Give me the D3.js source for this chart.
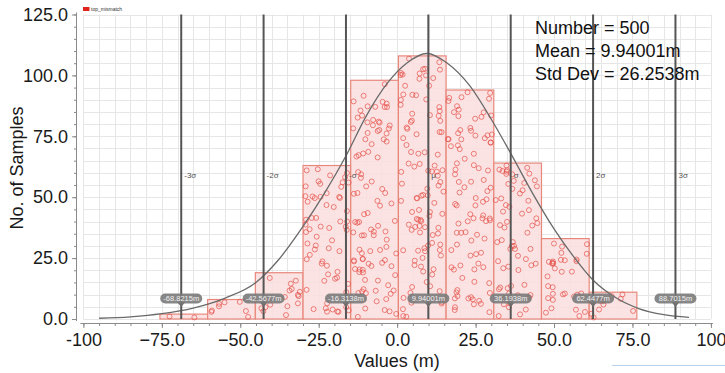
<!DOCTYPE html>
<html>
<head>
<meta charset="utf-8">
<script src="https://cdn.jsdelivr.net/npm/d3@7"></script>
<style>
  html, body { margin: 0; padding: 0; background: #fff; }
  svg { display: block; font-family: "Liberation Sans", Arial, sans-serif; }
</style>
</head>
<body>
<div id="chart"></div>
<script>
// histogram bins
const binEdges = [-75.6, -60.4, -45.2, -30.0, -14.8, 0.4, 15.6, 30.8, 46.0, 61.2, 76.4];
const binCounts = [2, 8, 19, 63, 98, 108, 94, 64, 33, 11];

// summary stats
const mean = 9.94001;
const stdDev = 26.2538;
const statLines = ["Number = 500", "Mean = 9.94001m", "Std Dev = 26.2538m"];

// sigma markers
const sigmaSteps = [-3, -2, -1, 0, 1, 2, 3];
const sigmaNames = ["-3σ", "-2σ", "-σ", "μ", "σ", "2σ", "3σ"];
const sigmaValues = ["-68.8215m", "-42.5677m", "-16.3138m", "9.94001m", "36.1938m", "62.4477m", "88.7015m"];

// fit curve, points
const curveX = [-95, -85, -75, -65, -55, -45, -38, -30, -23, -16.3, -10, -3, 3, 9.5, 16, 23, 30, 36.2, 43, 50, 56, 62.4, 70, 77, 85, 93];
const curveY = [0.3, 0.9, 2.2, 4.5, 8.5, 15, 24, 38, 52, 67, 83, 97, 105, 109, 105, 96, 82, 68, 52, 37, 26, 16, 8.5, 4.3, 1.8, 0.7];

// axes
const xTicks = [-100, -75, -50, -25, 0, 25, 50, 75, 100];
const yTicks = [0, 25, 50, 75, 100, 125];
const legendName = "top_mismatch";

const width = 725, height = 373;

const svg = d3.select("#chart").append("svg")
  .attr("width", width)
  .attr("height", height);

const x = d3.scaleLinear().domain([-100, 100]).range([83.4, 710.9]);
const y = d3.scaleLinear().domain([0, 125]).range([319, 14.5]);

// background grid every 5 units
const grid = svg.append("g").attr("stroke", "#e6e6e6").attr("stroke-width", 1);
grid.selectAll("line.v").data(d3.range(-100, 100.1, 5)).join("line")
  .attr("class", "v")
  .attr("x1", d => Math.round(x(d)) + 0.5).attr("x2", d => Math.round(x(d)) + 0.5)
  .attr("y1", y(125)).attr("y2", y(0));
grid.selectAll("line.h").data(d3.range(0, 125.1, 5)).join("line")
  .attr("class", "h")
  .attr("y1", d => Math.round(y(d)) + 0.5).attr("y2", d => Math.round(y(d)) + 0.5)
  .attr("x1", x(-100)).attr("x2", x(100));

// bars
const bins = binCounts.map((c, i) => ({ x0: binEdges[i], x1: binEdges[i + 1], count: c }));

svg.append("g").selectAll("rect").data(bins).join("rect")
  .attr("x", d => x(d.x0))
  .attr("y", d => y(d.count))
  .attr("width", d => x(d.x1) - x(d.x0))
  .attr("height", d => y(0) - y(d.count))
  .attr("fill", "#fbdede")
  .attr("fill-opacity", 0.85)
  .attr("stroke", "#e8887c")
  .attr("stroke-width", 1.2);

// one ring per sample, jittered inside its bin (fixed seed so it is stable)
const rand = d3.randomLcg(0.4242);
const dots = [];
bins.forEach(b => {
  for (let j = 0; j < b.count; j++) {
    dots.push({
      v: b.x0 + 0.6 + rand() * (b.x1 - b.x0 - 1.2),
      h: 0.6 + rand() * Math.max(0.1, b.count - 1.4)
    });
  }
});

svg.append("g").selectAll("circle").data(dots).join("circle")
  .attr("cx", d => x(d.v))
  .attr("cy", d => y(d.h))
  .attr("r", 2.5)
  .attr("fill", "none")
  .attr("stroke", "#e4544c")
  .attr("stroke-opacity", 0.8)
  .attr("stroke-width", 0.9);

// fit curve
svg.append("path")
  .datum(curveX.map((v, i) => [v, curveY[i]]))
  .attr("fill", "none")
  .attr("stroke", "#6a6a6a")
  .attr("stroke-width", 1.3)
  .attr("d", d3.line().x(d => x(d[0])).y(d => y(d[1])).curve(d3.curveMonotoneX));

// sigma lines
const sig = svg.append("g").selectAll("g").data(sigmaSteps).join("g")
  .attr("transform", k => `translate(${x(mean + k * stdDev)},0)`);

sig.append("line")
  .attr("y1", y(125)).attr("y2", y(0))
  .attr("stroke", "#555").attr("stroke-width", 2);

sig.append("text")
  .attr("x", 3).attr("y", 178)
  .attr("font-size", 8).attr("fill", "#555")
  .text((k, i) => sigmaNames[i]);

sig.append("path")
  .attr("d", "M-4,302 L4,302 L0,307 Z")
  .attr("fill", "#6e6e6e");

sig.append("rect")
  .attr("x", -21).attr("y", 293.5).attr("width", 42).attr("height", 10).attr("rx", 5)
  .attr("fill", "#7a7a7a").attr("fill-opacity", 0.9);

sig.append("text")
  .attr("y", 301.3)
  .attr("text-anchor", "middle")
  .attr("font-size", 7.5).attr("fill", "#f2f2f2")
  .text((k, i) => sigmaValues[i]);

// x axis
const xAxisY = 323;
svg.append("g")
  .attr("transform", `translate(0,${xAxisY})`)
  .call(d3.axisBottom(x).tickValues(d3.range(-100, 100.1, 5)).tickSize(3).tickFormat(""))
  .call(g => g.select(".domain").remove())
  .attr("color", "#8a8a8a");

svg.append("g")
  .attr("transform", `translate(0,${xAxisY})`)
  .call(d3.axisBottom(x).tickValues(xTicks).tickSize(5).tickPadding(5)
    .tickFormat(d => Math.abs(d) === 100 ? String(d) : d3.format(".1f")(d)))
  .call(g => g.select(".domain").attr("d", `M${x(-100) - 3},0.5H${x(100) + 2}`))
  .attr("color", "#8a8a8a")
  .call(g => g.selectAll("text").attr("fill", "#1a1a1a").attr("font-size", 18));

// y axis
const yAxisX = 77;
svg.append("g")
  .attr("transform", `translate(${yAxisX},0)`)
  .call(d3.axisLeft(y).tickValues(d3.range(0, 125.1, 5)).tickSize(3).tickFormat(""))
  .call(g => g.select(".domain").remove())
  .attr("color", "#8a8a8a");

svg.append("g")
  .attr("transform", `translate(${yAxisX},0)`)
  .call(d3.axisLeft(y).tickValues(yTicks).tickSize(5).tickPadding(4).tickFormat(d3.format(".1f")))
  .call(g => g.select(".domain").attr("d", `M-0.5,${y(125) - 2}V${y(0) + 2}`))
  .attr("color", "#8a8a8a")
  .call(g => g.selectAll("text").attr("fill", "#1a1a1a").attr("font-size", 18));

// axis titles
svg.append("text")
  .attr("x", 397).attr("y", 367)
  .attr("text-anchor", "middle")
  .attr("font-size", 18).attr("fill", "#1a1a1a")
  .text("Values (m)");

svg.append("text")
  .attr("transform", "translate(23,168) rotate(-90)")
  .attr("text-anchor", "middle")
  .attr("font-size", 18).attr("fill", "#1a1a1a")
  .text("No. of Samples");

// stats box
svg.append("g").selectAll("text").data(statLines).join("text")
  .attr("x", 535)
  .attr("y", (d, i) => 34 + i * 23)
  .attr("font-size", 18).attr("fill", "#111")
  .text(d => d);

// legend
svg.append("rect").attr("x", 83).attr("y", 7).attr("width", 6.5).attr("height", 4).attr("fill", "#e0241c");
svg.append("text").attr("x", 91).attr("y", 11).attr("font-size", 5).attr("fill", "#333").text(legendName);

// thin blue stroke at bottom right of the capture
svg.append("line")
  .attr("x1", 612).attr("x2", 725).attr("y1", 365.5).attr("y2", 365.5)
  .attr("stroke", "#b9d2ec").attr("stroke-width", 1);
</script>
</body>
</html>
